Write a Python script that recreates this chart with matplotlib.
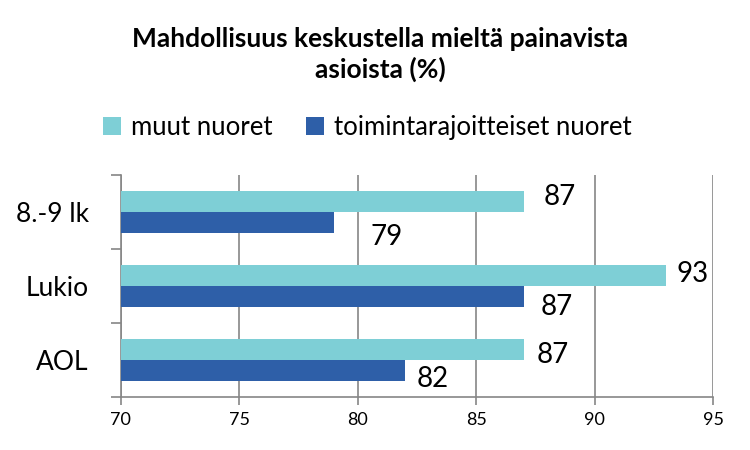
import numpy as np
import matplotlib.pyplot as plt

plt.rcParams['font.family'] = ['Lato', 'DejaVu Sans']

kategoriat = ['8.-9 lk', 'Lukio', 'AOL']
muut = [87, 93, 87]
toimintarajoitteiset = [79, 87, 82]

vari_muut = '#7ECFD6'
vari_toim = '#2E5FA8'

# arvojen siirrot (pt), kuten alkuperäisessä kuvassa
siirto_muut = [(26, 5), (19.5, 3), (21, -2)]
siirto_toim = [(38, -8.5), (24, -6), (20, -4)]

fig = plt.figure(figsize=(7.5, 4.5), dpi=100)
ax = fig.add_axes([0.161, 0.118, 0.79, 0.493])

y = np.arange(len(kategoriat))
h = 0.285
b1 = ax.barh(y - h / 2, np.array(muut) - 70, left=70, height=h, color=vari_muut, label='muut nuoret', zorder=3)
b2 = ax.barh(y + h / 2, np.array(toimintarajoitteiset) - 70, left=70, height=h, color=vari_toim,
             label='toimintarajoitteiset nuoret', zorder=3)

for i in range(len(kategoriat)):
    ax.annotate(str(muut[i]), (muut[i], y[i] - h / 2), xytext=siirto_muut[i], textcoords='offset points',
                ha='center', va='center_baseline', fontsize=20)
    ax.annotate(str(toimintarajoitteiset[i]), (toimintarajoitteiset[i], y[i] + h / 2), xytext=siirto_toim[i],
                textcoords='offset points', ha='center', va='center_baseline', fontsize=20)

ax.set_xlim(70, 95)
ax.set_ylim(len(kategoriat) - 0.5, -0.5)
ax.set_xticks([70, 75, 80, 85, 90, 95])
ax.set_yticks(y)
ax.set_yticklabels(kategoriat, fontsize=19)
ax.set_yticks([-0.5, 0.5, 1.5, 2.5], minor=True)
ax.tick_params(axis='y', which='major', length=0, pad=23)
ax.tick_params(axis='y', which='minor', length=7, color='#868686', width=1.2)
ax.tick_params(axis='x', length=6, color='#868686', width=1.2, labelsize=13, pad=5)
ax.grid(axis='x', color='#868686', linewidth=1.2, zorder=0)

for s in ['top', 'right']:
    ax.spines[s].set_visible(False)
for s in ['left', 'bottom']:
    ax.spines[s].set_color('#868686')
    ax.spines[s].set_linewidth(1.2)

fig.text(0.507, 0.879, 'Mahdollisuus keskustella mieltä painavista\nasioista (%)', ha='center', va='center',
         fontsize=19, fontweight='bold', linespacing=1.3)
fig.legend(handles=[b1, b2], loc='center', bbox_to_anchor=(0.49, 0.716), ncol=2, frameon=False,
           fontsize=18.5, handlelength=0.7, handleheight=0.7, columnspacing=1.3, handletextpad=0.4)

plt.savefig('out.png')
